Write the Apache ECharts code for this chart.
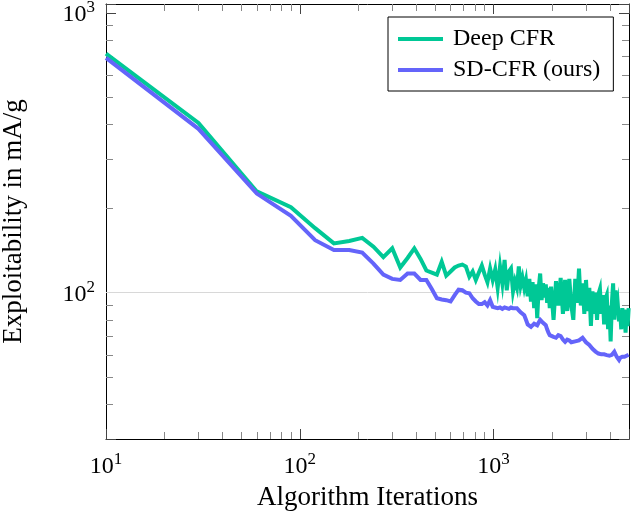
<!DOCTYPE html>
<html><head><meta charset="utf-8">
<script src="https://cdn.jsdelivr.net/npm/echarts@6/dist/echarts.min.js"></script>
<style>html,body{margin:0;padding:0;background:#fff}#c{width:632px;height:514px}</style>
</head><body><div id="c"></div>
<script>
// ---- data ----
const iterations = [
  10, 30, 60, 90, 120, 150, 180, 210, 240, 270,
  300, 330, 360, 390, 420, 450, 480, 510, 540, 570,
  600, 630, 660, 690, 720, 750, 780, 810, 840, 870,
  900, 930, 960, 990,
  1020, 1050, 1080, 1110, 1140, 1170, 1200, 1230, 1260, 1290,
  1320, 1350, 1380, 1410, 1440, 1470, 1500, 1530, 1560, 1590,
  1620, 1650, 1680, 1710, 1740, 1770, 1800, 1830, 1860, 1890,
  1920, 1950, 1980,
  2040, 2100, 2160,
  2220, 2280, 2340, 2400, 2460, 2520, 2580, 2640, 2700, 2760,
  2820, 2880, 2940, 3000, 3060, 3120, 3180, 3240, 3300, 3360,
  3420, 3480, 3540, 3600, 3660, 3720, 3780, 3840, 3900, 3960,
  4020, 4080, 4140, 4200, 4260, 4320, 4380, 4440, 4500, 4560,
  4620, 4680, 4740, 4800, 4860, 4920, 4980
];
const deepCfr = [
  715, 404, 230, 202, 170, 150, 153, 157, 146, 134,
  144, 123, 133, 144, 132, 120, 118, 116, 129, 115,
  119, 123, 125, 126, 124, 114, 119, 111, 118, 125,
  116, 109, 122, 111,
  121, 104, 124, 108, 131, 102, 119, 122, 101, 110,
  104, 124, 106, 113, 104, 111, 97, 112, 93, 109,
  88, 107, 81, 104, 117, 94, 108, 96, 107, 92,
  104, 88, 105,
  80, 110, 90,
  113, 84, 111, 86, 112, 90, 80, 112, 92, 122,
  90, 108, 84, 111, 86, 104, 76, 101, 84, 100,
  80, 99, 103, 84, 98, 77, 95, 98, 74, 90,
  67, 92, 108, 80, 102, 84, 90, 79, 86, 74,
  88, 80, 87, 72, 85, 76, 88
];
const sdCfr = [
  690, 385, 226, 188, 154, 142, 142, 139, 127, 116,
  112, 111, 117, 117, 111, 111, 103, 95.5, 94.5, 94,
  93, 98, 102.5, 102, 100, 99.5, 95.5, 93, 91, 91,
  92.5, 90, 94, 89,
  88.5, 88, 88.5, 87.5, 88.5, 88, 87.5, 88.5, 88, 87.5,
  88, 86.5, 85, 84, 83, 80, 77, 76, 75.5, 76,
  77.5, 78, 76.5, 77, 80, 79, 78, 77.5, 76.5, 74,
  72, 70.5, 70,
  69.5, 69, 70.5,
  70, 68, 66.7, 68, 67.5, 66.5, 65.9, 67, 68, 67.5,
  68.5, 69, 68, 66.5, 66, 65, 64, 63, 62, 61.6,
  61.2, 60.6, 60.8, 60.2, 59.8, 60.2, 59.5, 59.8, 59, 59.5,
  59, 60, 60.6, 61.5, 60.5, 59, 58.2, 57.5, 58.5, 58,
  59, 58.2, 59, 58.5, 59.5, 59.8, 60
];
const seriesNames = ['Deep CFR', 'SD-CFR (ours)'];
const xMinorTicks = [20, 30, 40, 50, 60, 70, 80, 90, 200, 300, 400, 500, 600, 700, 800, 900, 2000, 3000, 4000];
const yMinorTicks = [40, 50, 60, 70, 80, 90, 200, 300, 400, 500, 600, 700, 800, 900];
const yGridValues = [100];
const X_MIN = 10, X_MAX = 5000, Y_MIN = 30, Y_MAX = 1075;

// ---- styling ----
const FONT = "'Liberation Serif', 'Times New Roman', serif";
const GREEN = '#00c896';
const BLUE = '#6464fa';

const powRich = {
  b: { fontFamily: FONT, fontSize: 24, color: '#000', lineHeight: 28, verticalAlign: 'bottom' },
  s: { fontFamily: FONT, fontSize: 17, color: '#000', lineHeight: 17, verticalAlign: 'top' }
};
function powFormatter(v) {
  const e = Math.log10(v);
  const r = Math.round(e);
  if (Math.abs(e - r) > 1e-6) return '';
  return '{b|10}{s|' + r + '}';
}

function mainAxis(pos, min, max, extra) {
  return Object.assign({
    type: 'log', logBase: 10, position: pos, min: min, max: max,
    axisLine: { show: true, onZero: false, lineStyle: { color: '#000', width: 1 } },
    axisTick: { show: true, inside: true, length: 10, lineStyle: { color: '#444', width: 1 } },
    axisLabel: { show: false },
    splitLine: { show: false }
  }, extra || {});
}
function minorAxis(pos, min, max, ticks) {
  return {
    type: 'value', position: pos, min: Math.log10(min), max: Math.log10(max),
    axisLine: { show: false, onZero: false },
    axisLabel: { show: false },
    splitLine: { show: false },
    axisTick: { show: true, inside: true, length: 7, customValues: ticks.map(Math.log10),
                lineStyle: { color: '#888', width: 1 } }
  };
}

const chart = echarts.init(document.getElementById('c'), null, { renderer: 'canvas' });
chart.setOption({
  animation: false,
  backgroundColor: '#fff',
  grid: { left: 106, right: 3, top: 4, bottom: 75, containLabel: false, outerBoundsMode: 'none' },
  legend: {
    orient: 'vertical', left: 388, top: 17,
    icon: 'rect', itemWidth: 45, itemHeight: 4, itemGap: 7,
    padding: [10, 13, 9, 10],
    borderColor: '#000', borderWidth: 1, backgroundColor: '#fff',
    textStyle: { fontFamily: FONT, fontSize: 24, color: '#000', lineHeight: 24, padding: [0, 0, 0, 5] },
    data: seriesNames
  },
  xAxis: [
    mainAxis('bottom', X_MIN, X_MAX, {
      axisLabel: { show: true, margin: 12, formatter: powFormatter, rich: powRich },
      name: 'Algorithm Iterations', nameLocation: 'middle', nameGap: 45,
      nameTextStyle: { fontFamily: FONT, fontSize: 27, color: '#000' }
    }),
    minorAxis('bottom', X_MIN, X_MAX, xMinorTicks),
    mainAxis('top', X_MIN, X_MAX),
    minorAxis('top', X_MIN, X_MAX, xMinorTicks)
  ],
  yAxis: [
    mainAxis('left', Y_MIN, Y_MAX, {
      axisLabel: { show: true, margin: 11, formatter: powFormatter, rich: powRich },
      name: 'Exploitability in mA/g', nameLocation: 'middle', nameGap: 79, nameRotate: 90,
      nameTextStyle: { fontFamily: FONT, fontSize: 27, color: '#000' }
    }),
    minorAxis('left', Y_MIN, Y_MAX, yMinorTicks),
    mainAxis('right', Y_MIN, Y_MAX),
    minorAxis('right', Y_MIN, Y_MAX, yMinorTicks)
  ],
  series: [
    {
      name: seriesNames[0], type: 'line', xAxisIndex: 0, yAxisIndex: 0,
      data: iterations.map((x, i) => [x, deepCfr[i]]),
      symbol: 'none', showSymbol: false,
      lineStyle: { color: GREEN, width: 4, join: 'miter' }, itemStyle: { color: GREEN },
      markLine: {
        silent: true, symbol: 'none', z: 1, animation: false,
        label: { show: false },
        lineStyle: { color: '#d8d8d8', width: 1, type: 'solid' },
        data: yGridValues.map(v => ({ yAxis: v }))
      }
    },
    {
      name: seriesNames[1], type: 'line', xAxisIndex: 0, yAxisIndex: 0,
      data: iterations.map((x, i) => [x, sdCfr[i]]),
      symbol: 'none', showSymbol: false,
      lineStyle: { color: BLUE, width: 4, join: 'miter' }, itemStyle: { color: BLUE }
    }
  ]
});
</script>
</body></html>
